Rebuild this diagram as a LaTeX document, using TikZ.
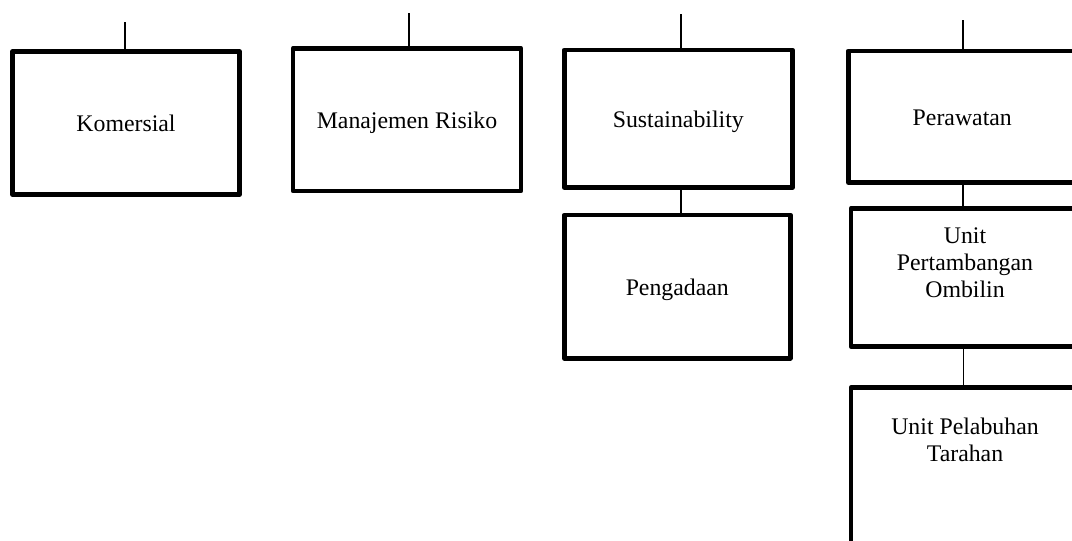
\documentclass[tikz,border=0pt]{standalone}
\usepackage{fontspec}
\setmainfont{Liberation Serif}
\begin{document}
\begin{tikzpicture}[x=1pt,y=-1pt,
  unitbox/.style={draw=black, line width=4.6pt, line join=round, rectangle,
    inner sep=0pt, text height=20pt, text depth=2.5pt,
    font=\fontsize{23.8}{26.8}\selectfont},
  boxtext/.style={inner sep=0pt, align=center,
    font=\fontsize{23.8}{26.8}\selectfont},
  link/.style={draw=black, line width=1.4pt}]
\clip (0,0) rectangle (1072,541);

% top row of units
\node[unitbox, minimum width=227pt, minimum height=143pt] (kom) at (126,123) {Komersial};
\node[unitbox, minimum width=228pt, minimum height=142.7pt] (mr) at (407,119.7) {Manajemen Risiko};
\node[unitbox, minimum width=228pt, minimum height=137.7pt] (sus) at (678.3,118.8) {Sustainability};
\node[unitbox, minimum width=228pt, minimum height=131.7pt] (raw) at (962.3,116.7) {Perawatan};

% second and third rows
\node[unitbox, minimum width=226pt, minimum height=143.3pt] (peng) at (677.3,286.7) {Pengadaan};
\node[unitbox, minimum width=228pt, minimum height=138pt] (omb) at (965,277.3) {};
\node[boxtext, anchor=north] (ombtxt) at ([yshift=-21.8pt]omb.north) {Unit\\Pertambangan\\Ombilin};
\node[unitbox, minimum width=228pt, minimum height=182.5pt] (tar) at (965,478.8) {};
\node[boxtext, anchor=north] (tartxt) at ([yshift=-33pt]tar.north) {Unit Pelabuhan\\Tarahan};

% incoming lines from above
\coordinate (ckom) at (125,22);
\coordinate (cmr) at (409,13);
\coordinate (csus) at (681,14);
\coordinate (craw) at (963,20);
\draw[link] (ckom) -- (ckom |- kom.north);
\draw[link] (cmr) -- (cmr |- mr.north);
\draw[link] (csus) -- (csus |- sus.north);
\draw[link] (craw) -- (craw |- raw.north);

% links between stacked units
\draw[link] (sus.south) ++(2.7,0) coordinate (sp) -- (sp |- peng.north);
\draw[link] (raw.south) ++(0.7,-3.5) coordinate (ro) -- (ro |- omb.north);
\draw[link] (omb.south) ++(-1.7,0) coordinate (ot) -- (ot |- tar.north);
\end{tikzpicture}
\end{document}
